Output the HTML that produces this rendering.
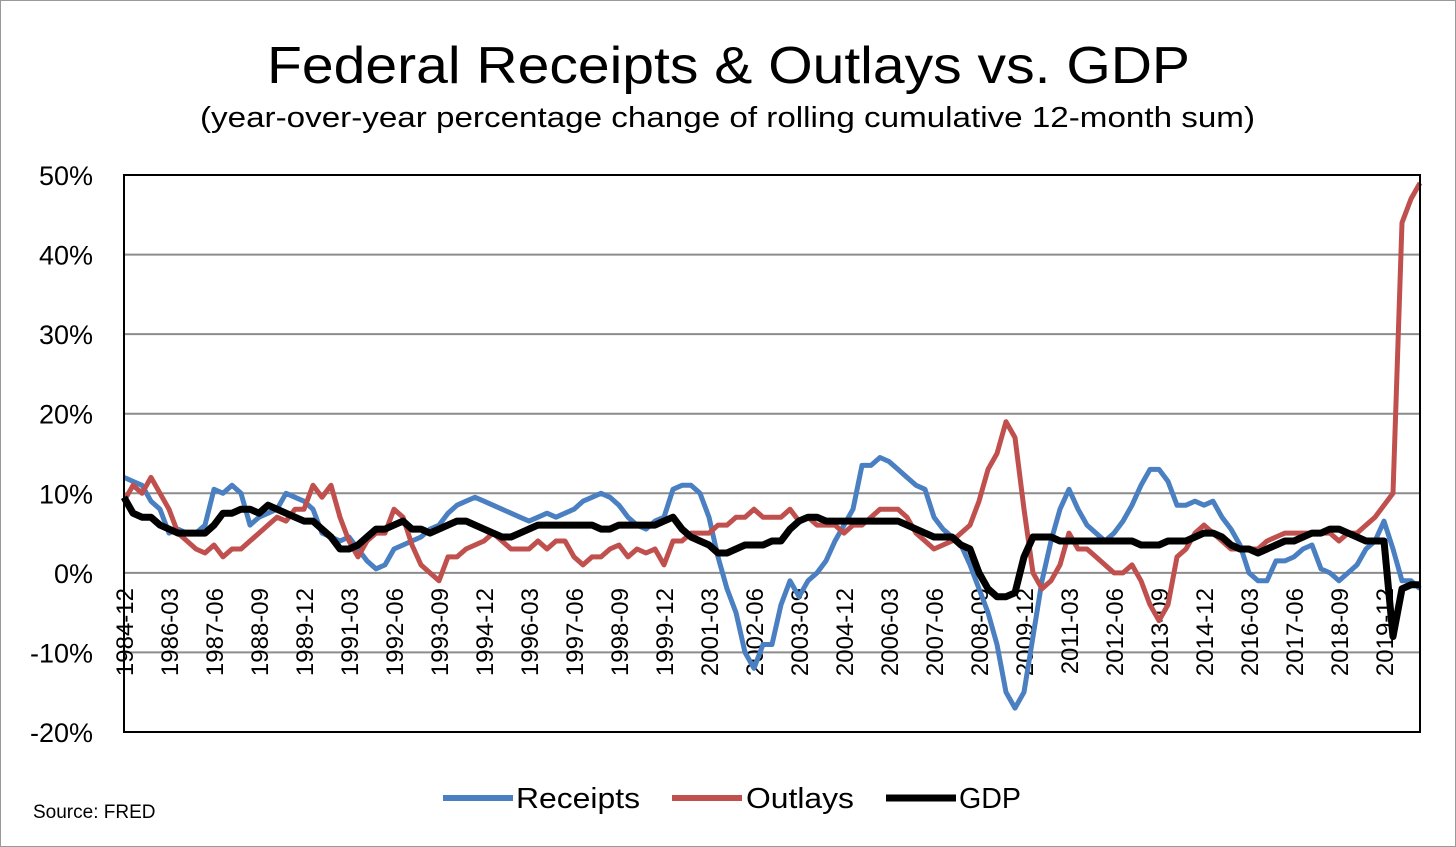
<!DOCTYPE html>
<html><head><meta charset="utf-8"><style>
html,body{margin:0;padding:0;background:#fff;}
svg{display:block;font-family:"Liberation Sans",sans-serif;}
</style></head><body>
<svg id="chart" width="1456" height="847" viewBox="0 0 1456 847">
<rect x="0.5" y="0.5" width="1455" height="846" fill="#fff" stroke="#999"/>
<text x="267" y="83" font-size="52" textLength="923" lengthAdjust="spacingAndGlyphs" fill="#000">Federal Receipts &amp; Outlays vs. GDP</text>
<text x="200" y="127" font-size="29" textLength="1055" lengthAdjust="spacingAndGlyphs" fill="#000">(year-over-year percentage change of rolling cumulative 12-month sum)</text>
<g id="grid"></g>
<g id="yticks"></g>
<g id="xticks"></g>
<g id="series"></g>
<rect x="124" y="175" width="1296" height="557" fill="none" stroke="#000" stroke-width="2"/>
<g>
<g><line x1="443" y1="798" x2="513" y2="798" stroke="#4a7fc1" stroke-width="6"/><text x="516" y="808" font-size="29" textLength="124" lengthAdjust="spacingAndGlyphs">Receipts</text></g>
<g><line x1="672" y1="798" x2="742" y2="798" stroke="#c0504d" stroke-width="6"/><text x="746" y="808" font-size="29" textLength="108" lengthAdjust="spacingAndGlyphs">Outlays</text></g>
<g><line x1="886" y1="798" x2="956" y2="798" stroke="#000" stroke-width="7"/><text x="959" y="808" font-size="29" textLength="62" lengthAdjust="spacingAndGlyphs">GDP</text></g>
</g>
<text x="33" y="818" font-size="19">Source: FRED</text>
</svg>
<script>
// quarterly data starting 1984-12
const startYear = 1984, startMonth = 12;
const receipts = [12,
 11.5,11,9,8, 5,5.5,5,5, 6,10.5,10,11, 10,6,7,7.5, 8,10,9.5,9, 8,5,4.5,4,
 4.5,3,1.5,0.5, 1,3,3.5,4, 4.5,5.5,6,7.5, 8.5,9,9.5,9, 8.5,8,7.5,7,
 6.5,7,7.5,7, 7.5,8,9,9.5, 10,9.5,8.5,7, 6,5.5,6.5,7, 10.5,11,11,10,
 7,2,-2,-5, -10,-12,-9,-9, -4,-1,-3,-1, 0,1.5,4,6, 8,13.5,13.5,14.5,
 14,13,12,11, 10.5,7,5.5,4.5, 3.5,1,-2,-5, -9,-15,-17,-15, -8,-1,4,8,
 10.5,8,6,5, 4,5,6.5,8.5, 11,13,13,11.5, 8.5,8.5,9,8.5, 9,7,5.5,3.5,
 0,-1,-1,1.5, 1.5,2,3,3.5, 0.5,0,-1,0, 1,3,4,6.5, 3,-1,-1,-2];
const outlays = [9,
 11,10,12,10, 8,5,4,3, 2.5,3.5,2,3, 3,4,5,6, 7,6.5,8,8, 11,9.5,11,7,
 4,2,4,5, 5,8,7,3.5, 1,0,-1,2, 2,3,3.5,4, 5,4,3,3,
 3,4,3,4, 4,2,1,2, 2,3,3.5,2, 3,2.5,3,1, 4,4,5,5,
 5,6,6,7, 7,8,7,7, 7,8,6.5,7, 6,6,6,5, 6,6,7,8,
 8,8,7,5, 4,3,3.5,4, 5,6,9,13, 15,19,17,8, 0,-2,-1,1,
 5,3,3,2, 1,0,0,1, -1,-4,-6,-4, 2,3,5,6, 5,4,3,3,
 3,3,4,4.5, 5,5,5,5, 5,5,4,5, 5,6,7,8.5, 10,44,47,49];
const gdp = [9.5,
 7.5,7,7,6, 5.5,5,5,5, 5,6,7.5,7.5, 8,8,7.5,8.5, 8,7.5,7,6.5, 6.5,5.5,4.5,3,
 3,3.5,4.5,5.5, 5.5,6,6.5,5.5, 5.5,5,5.5,6, 6.5,6.5,6,5.5, 5,4.5,4.5,5,
 5.5,6,6,6, 6,6,6,6, 5.5,5.5,6,6, 6,6,6,6.5, 7,5.5,4.5,4,
 3.5,2.5,2.5,3, 3.5,3.5,3.5,4, 4,5.5,6.5,7, 7,6.5,6.5,6.5, 6.5,6.5,6.5,6.5,
 6.5,6.5,6,5.5, 5,4.5,4.5,4.5, 3.5,3,0,-2, -3,-3,-2.5,2, 4.5,4.5,4.5,4,
 4,4,4,4, 4,4,4,4, 3.5,3.5,3.5,4, 4,4,4.5,5, 5,4.5,3.5,3,
 3,2.5,3,3.5, 4,4,4.5,5, 5,5.5,5.5,5, 4.5,4,4,4, -8,-2,-1.5,-1.5];
const yTicks = [50,40,30,20,10,0,-10,-20];
const xTickLabels = ["1984-12","1986-03","1987-06","1988-09","1989-12","1991-03","1992-06","1993-09","1994-12","1996-03","1997-06","1998-09","1999-12","2001-03","2002-06","2003-09","2004-12","2006-03","2007-06","2008-09","2009-12","2011-03","2012-06","2013-09","2014-12","2016-03","2017-06","2018-09","2019-12"];

const NS="http://www.w3.org/2000/svg";
const X0=124, PX_PER_MONTH=3.0, Y_TOP=175, Y_BOT=732, VMAX=50, VMIN=-20;
function xMonths(m){return X0+m*PX_PER_MONTH;}
function xLabel(s){const [y,m]=s.split("-").map(Number);return xMonths((y-startYear)*12+(m-startMonth));}
function yScale(v){return Y_TOP+(VMAX-v)/(VMAX-VMIN)*(Y_BOT-Y_TOP);}
function mk(t,a){const e=document.createElementNS(NS,t);for(const k in a)e.setAttribute(k,a[k]);return e;}

const grid=document.getElementById("grid"), yt=document.getElementById("yticks"), xt=document.getElementById("xticks"), sg=document.getElementById("series");
yTicks.forEach(v=>{
  const y=yScale(v);
  if(v!==VMAX && v!==VMIN){
    const l=mk("line",{x1:X0,x2:1420,y1:y,y2:y,stroke:"#8c8c8c","stroke-width":2});
    
    
    grid.appendChild(l);
  }
  const t=mk("text",{x:93,y:y+10,"text-anchor":"end","font-size":27});
  t.textContent=v+"%";
  
  
  yt.appendChild(t);
});
xTickLabels.forEach(s=>{
  const x=xLabel(s);
  const t=mk("text",{x:0,y:0,"text-anchor":"end","font-size":24,transform:`translate(${x+9},588) rotate(-90)`});
  t.textContent=s;
  
  
  xt.appendChild(t);
});
function drawSeries(arr,color,w,name){
  const pts=arr.map((v,i)=>xMonths(i*3).toFixed(1)+","+yScale(v).toFixed(1)).join(" ");
  const p=mk("polyline",{points:pts,fill:"none",stroke:color,"stroke-width":w,"stroke-linejoin":"round"});
  
  
  sg.appendChild(p);
}
drawSeries(receipts,"#4a7fc1",5,"receipts-line");
drawSeries(outlays,"#c0504d",5,"outlays-line");
drawSeries(gdp,"#000",7,"gdp-line");
</script>
</body></html>
